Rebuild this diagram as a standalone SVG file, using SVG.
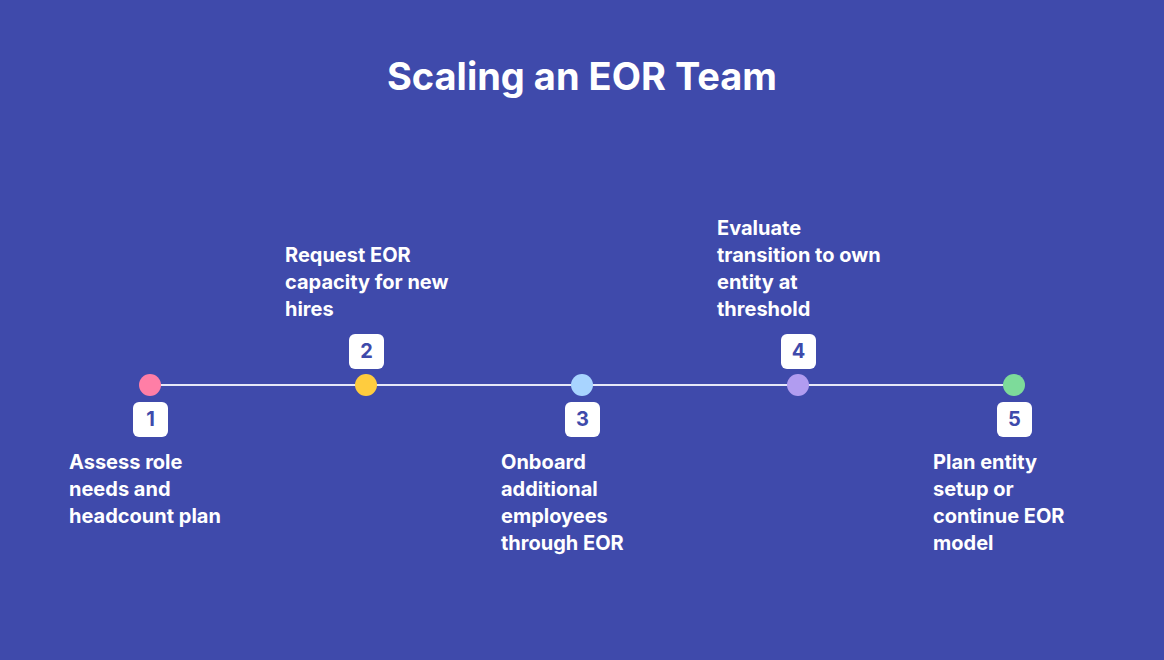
<svg xmlns="http://www.w3.org/2000/svg" width="1164" height="660" viewBox="0 0 1164 660">
<style>
.title{font-family:Inter,"Noto Sans","Liberation Sans",sans-serif;font-weight:700;font-size:38px;fill:#ffffff}
.lbl{font-family:Inter,"Noto Sans","Liberation Sans",sans-serif;font-weight:700;font-size:20px;fill:#ffffff}
.num{font-family:Inter,"Noto Sans","Liberation Sans",sans-serif;font-weight:700;font-size:20px;fill:#3E4AAB}
.box{fill:#ffffff}
</style>
<rect width="1164" height="660" fill="#3F4AAB"/>
<text class="title" x="582" y="90" text-anchor="middle">Scaling an EOR Team</text>
<g id="connectors">
<line x1="150" y1="385" x2="1014" y2="385" stroke="#E6E8F8" stroke-width="2"/>
</g>
<g id="step1">
<circle cx="150" cy="385" r="11" fill="#FF7EA6"/>
<rect class="box" x="133" y="402" width="35" height="35" rx="6"/>
<text class="num" x="150.5" y="426" text-anchor="middle">1</text>
<text class="lbl" x="69" y="469">Assess role</text>
<text class="lbl" x="69" y="496">needs and</text>
<text class="lbl" x="69" y="523">headcount plan</text>
</g>
<g id="step2">
<circle cx="366" cy="385" r="11" fill="#FFCC3E"/>
<rect class="box" x="349" y="334" width="35" height="35" rx="6"/>
<text class="num" x="366.5" y="358" text-anchor="middle">2</text>
<text class="lbl" x="285" y="262">Request EOR</text>
<text class="lbl" x="285" y="289">capacity for new</text>
<text class="lbl" x="285" y="316">hires</text>
</g>
<g id="step3">
<circle cx="582" cy="385" r="11" fill="#A8D4FF"/>
<rect class="box" x="565" y="402" width="35" height="35" rx="6"/>
<text class="num" x="582.5" y="426" text-anchor="middle">3</text>
<text class="lbl" x="501" y="469">Onboard</text>
<text class="lbl" x="501" y="496">additional</text>
<text class="lbl" x="501" y="523">employees</text>
<text class="lbl" x="501" y="550">through EOR</text>
</g>
<g id="step4">
<circle cx="798" cy="385" r="11" fill="#B19CF0"/>
<rect class="box" x="781" y="334" width="35" height="35" rx="6"/>
<text class="num" x="798.5" y="358" text-anchor="middle">4</text>
<text class="lbl" x="717" y="235">Evaluate</text>
<text class="lbl" x="717" y="262">transition to own</text>
<text class="lbl" x="717" y="289">entity at</text>
<text class="lbl" x="717" y="316">threshold</text>
</g>
<g id="step5">
<circle cx="1014" cy="385" r="11" fill="#7DDB9A"/>
<rect class="box" x="997" y="402" width="35" height="35" rx="6"/>
<text class="num" x="1014.5" y="426" text-anchor="middle">5</text>
<text class="lbl" x="933" y="469">Plan entity</text>
<text class="lbl" x="933" y="496">setup or</text>
<text class="lbl" x="933" y="523">continue EOR</text>
<text class="lbl" x="933" y="550">model</text>
</g>
</svg>
